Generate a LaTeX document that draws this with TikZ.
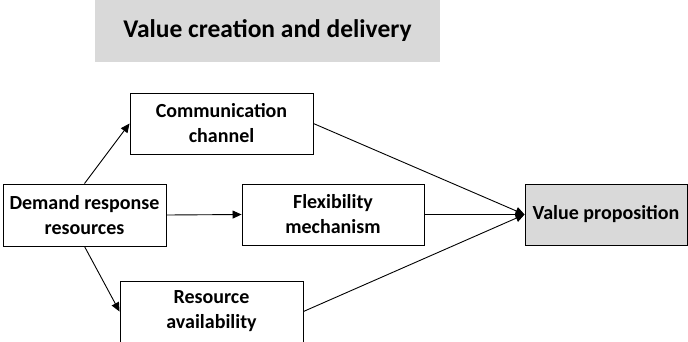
\documentclass[tikz,border=0pt]{standalone}
\usepackage{fontspec}
\setmainfont{Carlito}
\usetikzlibrary{arrows.meta}
\definecolor{boxgray}{HTML}{D9D9D9}
\begin{document}
\begin{tikzpicture}[x=1pt,y=-1pt,
  box/.style={draw=black, line width=0.9pt, rectangle, align=center, inner sep=0pt,
    font=\fontsize{20}{25}\selectfont\bfseries},
  conn/.style={line width=0.9pt},
  arr/.style={conn, -{Triangle[length=9pt,width=8pt]}}]
\useasboundingbox (0,0) rectangle (688,341);
\clip (0,0) rectangle (688,341);
\node[fill=boxgray, minimum width=345pt, minimum height=62pt, inner sep=0pt,
  font=\fontsize{25.5}{30}\selectfont\bfseries] (title) at (267.5,31) {Value creation and delivery};
\node[box, minimum width=183pt, minimum height=61pt] (comm) at (221.5,123.5) {Communication\\channel};
\node[box, minimum width=163pt, minimum height=62pt] (dem) at (84.5,215) {Demand response\\resources};
\node[box, minimum width=182pt, minimum height=61pt] (flex) at (333,214.5) {Flexibility\\mechanism};
\node[box, fill=boxgray, minimum width=162pt, minimum height=61pt] (vp) at (606,214.5) {Value proposition};
\node[box, minimum width=183pt, minimum height=61pt] (res) at (211.5,311.5) {Resource\\availability};
\draw[arr] (dem.north) -- (comm.west);
\draw[arr] (dem.south) -- (res.west);
\draw[arr] (dem.east) -- (flex.west);
\draw[arr] (comm.east) -- (vp.west);
\draw[arr] (flex.east) -- (vp.west);
\draw[arr] (res.east) -- (vp.west);
\end{tikzpicture}
\end{document}
